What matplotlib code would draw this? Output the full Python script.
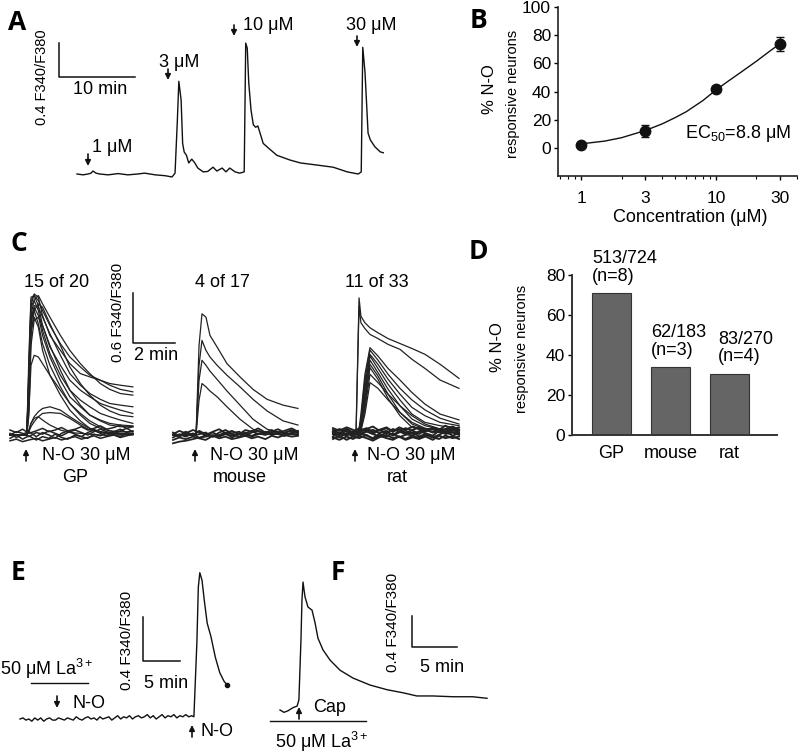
import matplotlib
matplotlib.use('Agg')
import matplotlib.pyplot as plt
from matplotlib.ticker import NullFormatter, FixedLocator, LogLocator

plt.rcParams['font.family'] = ['Liberation Sans', 'DejaVu Sans']
plt.rcParams['mathtext.fontset'] = 'custom'
plt.rcParams['mathtext.rm'] = 'Liberation Sans'
plt.rcParams['mathtext.it'] = 'Liberation Sans:italic'
plt.rcParams['mathtext.default'] = 'rm'

# ---------------- data ----------------
# A: single neuron, increasing N-O concentrations (min, delta F340/F380)
a_time = [0, 0.8, 1.45, 1.85, 2.1, 2.5, 3.0, 4.1, 5.4, 6.7, 8.0, 8.9, 10.3, 11.6, 12.5, 12.9,
          13.2, 13.4, 13.7, 13.9, 14.1, 14.4, 14.7, 15.1, 15.5, 15.9, 16.6, 17.2, 17.9, 18.4,
          19.1, 19.6, 20.1, 20.8, 21.4, 22.0, 22.2, 22.4, 22.6, 22.9, 23.2, 23.5, 23.8, 24.5,
          25.0, 26.3, 28.0, 29.4, 31.6, 33.7, 35.6, 37.0, 37.4, 37.6, 37.9, 38.3, 38.6, 39.2,
          39.9, 40.3]
a_ratio = [0, -0.01, 0, 0.01, 0.035, 0.01, 0, -0.01, 0.005, -0.01, 0, 0.01, -0.01, -0.02, -0.035, 0.01,
           0.62, 1.09, 0.87, 0.36, 0.26, 0.22, 0.13, 0.175, 0.13, 0.07, 0.025, 0.03, 0.08, 0.035,
           0.07, 0.025, 0.07, 0.025, 0.01, 0.025, 1.54, 1.48, 1.07, 0.75, 0.58, 0.55, 0.565, 0.36,
           0.32, 0.22, 0.165, 0.13, 0.105, 0.08, 0.024, 0, 0.024, 1.49, 1.19, 0.48, 0.40, 0.32,
           0.26, 0.25]

# B: concentration-response
conc = [1, 3, 10, 30]
pct_resp = [2, 12, 42, 74]
pct_err = [1.5, 4, 2, 5]
fit_conc = [1, 1.5, 2, 3, 4, 5, 6, 8, 10, 12, 15, 20, 25, 30]
fit_pct = [2.8, 4.8, 7.2, 12.3, 17, 21.5, 25.5, 33.5, 41, 46.5, 53, 61.5, 68.5, 74]

# C: overlaid traces, GP
gp_t = [0, 0.8, 0.9, 1.0, 1.15, 1.35, 1.55, 1.9, 2.4, 2.85, 3.35, 3.8, 4.3, 4.75, 5.25, 5.85]
gp_resp = [
    [0, 0, 0.72, 1.56, 1.70, 1.66, 1.44, 1.20, 1.02, 0.86, 0.74, 0.70, 0.66, 0.62, 0.60, 0.58],
    [0, 0, 0.96, 1.66, 1.68, 1.62, 1.50, 1.32, 1.10, 0.94, 0.82, 0.72, 0.66, 0.60, 0.55, 0.52],
    [0, 0, 0.60, 1.44, 1.63, 1.68, 1.58, 1.42, 1.20, 1.02, 0.86, 0.74, 0.62, 0.55, 0.50, 0.48],
    [0, 0, 0.48, 1.32, 1.56, 1.54, 1.42, 1.22, 0.96, 0.74, 0.60, 0.50, 0.43, 0.38, 0.36, 0.34],
    [0, 0, 0.84, 1.62, 1.68, 1.56, 1.32, 1.06, 0.84, 0.66, 0.54, 0.46, 0.38, 0.34, 0.30, 0.26],
    [0, 0, 0.36, 1.20, 1.50, 1.58, 1.54, 1.34, 1.08, 0.82, 0.62, 0.48, 0.36, 0.29, 0.24, 0.22],
    [0, 0, 0.72, 1.54, 1.62, 1.50, 1.26, 0.98, 0.72, 0.54, 0.42, 0.34, 0.26, 0.22, 0.18, 0.14],
    [0, 0, 0.54, 1.38, 1.54, 1.44, 1.20, 0.94, 0.66, 0.46, 0.34, 0.24, 0.18, 0.14, 0.12, 0.11],
    [0, 0, 0.24, 1.08, 1.38, 1.42, 1.32, 1.08, 0.78, 0.54, 0.36, 0.24, 0.17, 0.12, 0.10, 0.10],
    [0, 0, 0.60, 1.44, 1.50, 1.34, 1.10, 0.84, 0.58, 0.38, 0.24, 0.14, 0.08, 0.05, 0.04, 0.04],
    [0, 0, 0.42, 1.26, 1.42, 1.30, 1.02, 0.72, 0.48, 0.30, 0.17, 0.08, 0.04, 0.02, 0.02, 0.02],
    [0, 0, 0.30, 0.84, 0.96, 0.94, 0.86, 0.72, 0.54, 0.38, 0.26, 0.17, 0.10, 0.05, 0.02, 0.02],
    [0, 0, 0.06, 0.14, 0.22, 0.28, 0.32, 0.34, 0.30, 0.22, 0.14, 0.08, 0.04, 0.02, 0.01, 0.01],
    [0, 0, 0.04, 0.10, 0.16, 0.22, 0.26, 0.27, 0.26, 0.20, 0.12, 0.06, 0.03, 0.02, 0.01, 0.01],
    [0, 0, 0.05, 0.14, 0.20, 0.22, 0.18, 0.12, 0.06, 0.03, 0.02, 0.01, 0, 0, 0, 0],
]
gp_base_t = [0, 0.3, 0.6, 0.9, 1.25, 1.55, 1.85, 2.15, 2.45, 2.75, 3.1, 3.4, 3.7, 4.0, 4.3, 4.6,
             4.95, 5.25, 5.55, 5.85]
gp_base = [
    [0.02, -0.03, 0.01, 0.04, -0.02, 0.03, 0.00, -0.04, 0.02, 0.05, 0.01, -0.02, 0.03, 0.06, 0.02, -0.01, 0.04, 0.07, 0.03, 0.05],
    [-0.04, 0.00, -0.05, -0.01, -0.06, -0.02, -0.04, 0.01, -0.03, -0.05, 0.00, -0.02, -0.04, 0.01, -0.01, 0.03, 0.00, -0.02, 0.02, 0.01],
    [0.06, 0.03, 0.07, 0.02, 0.05, 0.08, 0.04, 0.06, 0.09, 0.05, 0.07, 0.10, 0.06, 0.08, 0.11, 0.07, 0.09, 0.12, 0.08, 0.10],
    [-0.07, -0.05, -0.08, -0.06, -0.04, -0.07, -0.05, -0.03, -0.06, -0.04, -0.02, -0.05, -0.03, -0.01, -0.04, -0.02, 0.00, -0.03, -0.01, 0.01],
    [0.00, 0.04, 0.02, -0.02, 0.03, 0.01, 0.05, 0.02, -0.01, 0.03, 0.06, 0.03, 0.00, 0.04, 0.07, 0.04, 0.02, 0.05, 0.08, 0.04],
]

# C: mouse
mouse_t = [0, 0.8, 1.1, 1.24, 1.38, 1.57, 1.76, 2.1, 2.57, 3.19, 3.81, 4.48, 5.24, 5.95]
mouse_resp = [
    [0, 0, 0.02, 1.08, 1.46, 1.42, 1.20, 1.06, 0.86, 0.70, 0.55, 0.43, 0.36, 0.32],
    [0, 0, 0.02, 0.84, 1.14, 1.02, 0.94, 0.84, 0.72, 0.58, 0.43, 0.29, 0.17, 0.12],
    [0, 0, 0.01, 0.66, 0.90, 0.84, 0.77, 0.67, 0.53, 0.36, 0.19, 0.07, 0.02, 0.01],
    [0, 0, 0.01, 0.42, 0.62, 0.58, 0.53, 0.46, 0.34, 0.19, 0.07, 0.02, 0.01, 0],
]
mouse_base_t = [0, 0.3, 0.6, 0.95, 1.25, 1.55, 1.9, 2.2, 2.5, 2.8, 3.15, 3.45, 3.75, 4.05, 4.4,
                4.7, 5.0, 5.3, 5.65, 5.95]
mouse_base = [
    [0.03, -0.01, 0.04, 0.00, 0.05, 0.01, -0.02, 0.03, 0.06, 0.02, 0.04, -0.01, 0.03, 0.05, 0.01, 0.04, 0.07, 0.03, 0.05, 0.02],
    [-0.03, 0.01, -0.02, 0.02, -0.04, 0.00, 0.03, -0.01, 0.02, -0.03, 0.01, 0.03, -0.02, 0.01, 0.04, 0.00, 0.02, -0.01, 0.03, 0.05],
    [-0.06, -0.03, -0.05, -0.02, -0.04, -0.06, -0.01, -0.04, -0.02, -0.05, -0.03, -0.01, -0.04, -0.02, -0.05, -0.01, -0.03, 0.00, -0.02, -0.01],
    [0.01, 0.05, 0.02, 0.06, 0.03, 0.00, 0.04, 0.07, 0.02, 0.05, 0.01, 0.06, 0.04, 0.08, 0.03, 0.06, 0.02, 0.05, 0.08, 0.04],
    [-0.10, -0.08, -0.07, -0.05, -0.03, -0.02, 0.00, -0.02, 0.01, -0.01, 0.02, 0.00, -0.01, 0.02, 0.00, 0.03, 0.01, -0.01, 0.02, 0.00],
    [0.00, -0.02, 0.02, -0.01, 0.01, 0.03, -0.02, 0.00, 0.03, 0.01, -0.02, 0.02, 0.05, 0.01, 0.03, 0.00, 0.04, 0.02, 0.06, 0.03],
]

# C: rat
rat_t = [0, 0.9, 1.1, 1.24, 1.33, 1.52, 1.76, 2.14, 2.62, 3.19, 3.76, 4.38, 5.1, 6.0]
rat_resp = [
    [0, 0, 0.06, 1.64, 1.42, 1.34, 1.28, 1.22, 1.15, 1.09, 1.03, 0.96, 0.84, 0.67],
    [0, 0, 0.04, 1.54, 1.34, 1.27, 1.20, 1.15, 1.08, 1.02, 0.90, 0.79, 0.65, 0.55],
    [0, 0, 0, 0.06, 0.24, 0.72, 1.04, 0.94, 0.79, 0.65, 0.50, 0.36, 0.24, 0.17],
    [0, 0, 0, 0.05, 0.18, 0.66, 1.01, 0.89, 0.72, 0.55, 0.41, 0.29, 0.19, 0.12],
    [0, 0, 0, 0.04, 0.14, 0.60, 0.96, 0.84, 0.66, 0.48, 0.32, 0.22, 0.14, 0.10],
    [0, 0, 0, 0.02, 0.12, 0.54, 0.94, 0.79, 0.60, 0.41, 0.24, 0.14, 0.10, 0.07],
    [0, 0, 0, 0.02, 0.10, 0.48, 0.89, 0.74, 0.54, 0.34, 0.18, 0.10, 0.06, 0.05],
    [0, 0, 0, 0.02, 0.07, 0.42, 0.84, 0.70, 0.48, 0.26, 0.12, 0.06, 0.04, 0.02],
    [0, 0, 0, 0.01, 0.06, 0.36, 0.80, 0.66, 0.43, 0.22, 0.08, 0.04, 0.02, 0.01],
    [0, 0, 0, 0.01, 0.05, 0.30, 0.72, 0.62, 0.48, 0.34, 0.22, 0.12, 0.06, 0.04],
    [0, 0, 0, 0.01, 0.04, 0.24, 0.62, 0.55, 0.41, 0.26, 0.14, 0.07, 0.04, 0.01],
]
rat_base_t = [0, 0.3, 0.65, 0.95, 1.25, 1.6, 1.9, 2.2, 2.55, 2.85, 3.15, 3.45, 3.8, 4.1, 4.4,
              4.75, 5.05, 5.35, 5.7, 6.0]
rat_base = [
    [0.05, 0.01, 0.06, 0.02, 0.07, 0.03, 0.00, 0.05, 0.08, 0.03, 0.06, 0.01, 0.05, 0.08, 0.04, 0.07, 0.02, 0.06, 0.09, 0.05],
    [-0.03, 0.02, -0.02, 0.03, -0.01, 0.04, 0.00, -0.03, 0.02, -0.01, 0.03, 0.00, -0.02, 0.03, 0.01, -0.02, 0.04, 0.00, 0.02, -0.01],
    [-0.06, -0.02, -0.07, -0.03, -0.05, -0.01, -0.06, -0.02, -0.05, -0.07, -0.03, -0.06, -0.02, -0.05, -0.01, -0.04, -0.06, -0.02, -0.05, -0.03],
    [0.02, 0.06, 0.03, -0.01, 0.04, 0.07, 0.02, 0.05, 0.01, 0.06, 0.03, 0.07, 0.04, 0.00, 0.05, 0.02, 0.06, 0.03, 0.07, 0.04],
    [0.00, -0.04, 0.01, -0.03, 0.02, -0.02, -0.05, 0.00, -0.03, 0.01, -0.04, -0.01, 0.02, -0.03, 0.00, -0.04, -0.01, 0.03, -0.02, 0.01],
    [0.07, 0.04, 0.08, 0.05, 0.02, 0.06, 0.09, 0.04, 0.07, 0.03, 0.08, 0.05, 0.09, 0.06, 0.03, 0.08, 0.05, 0.10, 0.06, 0.08],
    [-0.04, -0.07, -0.03, -0.06, -0.02, -0.05, -0.08, -0.04, -0.01, -0.05, -0.03, -0.07, -0.04, -0.06, -0.03, -0.07, -0.02, -0.05, -0.03, -0.06],
    [0.03, -0.01, 0.04, 0.01, -0.02, 0.03, 0.05, 0.01, 0.04, -0.02, 0.02, 0.04, 0.00, 0.03, 0.06, 0.02, 0.04, 0.01, 0.05, 0.02],
]
c_titles = ['15 of 20', '4 of 17', '11 of 33']

# D: responsive fraction per species
species = ['GP', 'mouse', 'rat']
resp_pct = [70.9, 33.9, 30.7]
resp_counts = ['513/724', '62/183', '83/270']
n_animals = [8, 3, 4]

# E: N-O in presence of La3+
e_time = [0, 0.4, 0.8, 1.2, 1.6, 2.0, 2.4, 2.8, 3.2, 3.6, 4.0, 4.4, 4.8, 5.2, 5.6, 6.0, 6.4, 6.8,
          7.2, 7.6, 8.0, 8.4, 8.8, 9.2, 9.6, 10.0, 10.4, 10.8, 11.2, 11.6, 12.0, 12.4, 12.8, 13.2,
          13.6, 14.0, 14.4, 14.8, 15.2, 15.6, 16.0, 16.4, 16.8, 17.2, 17.6, 18.0, 18.4, 18.8,
          19.2, 19.6, 20.0, 20.4, 20.8, 21.2, 21.6, 22.0, 22.4, 22.8, 23.2,
          23.5, 23.9, 24.1, 24.3, 24.6, 24.9, 25.3, 25.8, 26.4, 27.0, 27.6, 28.0]
e_ratio = [0.00, 0.01, -0.01, 0.00, -0.02, 0.01, -0.01, 0.01, -0.02, 0.00, 0.01, -0.01, -0.01,
           0.01, 0.00, -0.01, 0.01, 0.00, -0.01, 0.02, 0.00, -0.01, 0.01, 0.02, 0.00, 0.01,
           -0.01, 0.02, 0.00, 0.01, 0.02, -0.01, 0.01, 0.03, 0.00, 0.02, 0.01, 0.03, 0.00, 0.02,
           0.03, 0.01, 0.02, 0.04, 0.01, 0.03, 0.00, 0.02, 0.04, 0.01, 0.03, 0.02, 0.04, 0.01,
           0.03, 0.02, 0.04, 0.02, 0.03,
           0.02, 0.69, 1.20, 1.33, 1.26, 1.08, 0.87, 0.75, 0.56, 0.42, 0.34, 0.31]

# F: capsaicin in presence of La3+
f_time = [0, 0.44, 0.89, 1.44, 1.9, 2.1, 2.33, 2.44, 2.56, 2.67, 2.78, 3.11, 3.56, 3.89, 4.22,
          4.78, 5.56, 6.67, 8.1, 10.0, 11.9, 13.7, 15.2, 17.0, 19.2, 21.4, 23.0]
f_ratio = [0, -0.03, -0.01, 0.03, 0.05, 0.13, 0.90, 1.41, 1.64, 1.54, 1.45, 1.32, 1.28, 1.12, 0.92,
           0.77, 0.64, 0.51, 0.41, 0.32, 0.26, 0.22, 0.18, 0.18, 0.17, 0.17, 0.15]

# ---------------- figure ----------------
W, H = 800, 753
FS = 13
INK = '#111111'
fig = plt.figure(figsize=(8, 7.53), dpi=100)


def trace_axes(box, origin, sx, sy):
    # box in pixels (left, top, right, bottom); origin pixel = (t=0, ratio=0)
    x0, y0, x1, y1 = box
    ox, oy = origin
    ax = fig.add_axes([x0 / W, 1 - y1 / H, (x1 - x0) / W, (y1 - y0) / H])
    ax.set_xlim((x0 - ox) / sx, (x1 - ox) / sx)
    ax.set_ylim((oy - y1) / sy, (oy - y0) / sy)
    ax.axis('off')
    return ax


def scale_bar(ax, x, y, dx, dy):
    ax.plot([x, x, x + dx], [y + dy, y, y], color=INK, lw=1.1, clip_on=False)


# A
axA = trace_axes((0, 0, 430, 200), (77, 174), 7.6, 85)
axA.plot(a_time, a_ratio, color=INK, lw=1.0)
scale_bar(axA, -2.37, 1.14, 10, 0.4)

# B
axB = fig.add_axes([558 / W, 1 - 176 / H, (797 - 558) / W, (176 - 7) / H])
axB.set_xscale('log')
axB.set_xlim(0.675, 40)
axB.set_ylim(-20, 100)
axB.plot(fit_conc, fit_pct, color=INK, lw=1.0)
axB.errorbar(conc, pct_resp, yerr=pct_err, fmt='o', color=INK, ms=7.5, capsize=3, elinewidth=1, capthick=1)
axB.xaxis.set_major_locator(FixedLocator(conc))
axB.set_xticklabels([str(c) for c in conc])
axB.xaxis.set_minor_locator(LogLocator(subs=(2, 4, 5, 6, 7, 8, 9)))
axB.xaxis.set_minor_formatter(NullFormatter())
axB.set_yticks([0, 20, 40, 60, 80, 100])
for s in ['top', 'right']:
    axB.spines[s].set_visible(False)
for s in ['left', 'bottom']:
    axB.spines[s].set_linewidth(1.2)
    axB.spines[s].set_color('#222222')
axB.tick_params(which='major', direction='out', length=3, width=1, labelsize=12.5, pad=2)
axB.tick_params(axis='x', which='major', pad=8)
axB.tick_params(which='minor', direction='out', length=2, width=0.8)

# C
axGP = trace_axes((0, 250, 185, 470), (10, 435), 21, 83)
for v in gp_base:
    axGP.plot(gp_base_t, v, color='#222222', lw=1.1)
for v in gp_resp:
    axGP.plot(gp_t, v, color='#222222', lw=0.9)
scale_bar(axGP, 5.86, 1.11, 2, 0.6)

axMo = trace_axes((165, 250, 305, 470), (173, 435), 21, 83)
for v in mouse_base:
    axMo.plot(mouse_base_t, v, color='#222222', lw=1.3)
for v in mouse_resp:
    axMo.plot(mouse_t, v, color='#222222', lw=0.9)

axRa = trace_axes((325, 250, 465, 470), (333, 434), 21, 83)
for v in rat_base:
    axRa.plot(rat_base_t, v, color='#222222', lw=1.4)
for v in rat_resp:
    axRa.plot(rat_t, v, color='#222222', lw=0.9)

# D
axD = fig.add_axes([572 / W, 1 - 435 / H, (777 - 572) / W, (435 - 275) / H])
x_pos = list(range(len(species)))
axD.bar(x_pos, resp_pct, width=0.66, color='#656565', edgecolor='#333333', lw=0.8)
axD.set_xlim(-0.67, 2.81)
axD.set_ylim(0, 80)
axD.set_yticks([0, 20, 40, 60, 80])
axD.set_xticks(x_pos)
axD.set_xticklabels(species)
for s in ['top', 'right']:
    axD.spines[s].set_visible(False)
for s in ['left', 'bottom']:
    axD.spines[s].set_linewidth(1.4)
    axD.spines[s].set_color('#333333')
axD.tick_params(axis='y', direction='out', length=3, width=1, labelsize=12.5, pad=2)
axD.tick_params(axis='x', length=0, labelsize=FS, pad=7)
for i, (cnt, n) in enumerate(zip(resp_counts, n_animals)):
    axD.annotate(f'{cnt}\n(n={n})', (i - 0.33, resp_pct[i]), xytext=(0 if i < 2 else 6, 6),
                 textcoords='offset points', ha='left', va='bottom', fontsize=FS, linespacing=1.05)

# E
axE = trace_axes((0, 540, 260, 753), (20, 719), 7.4, 110)
axE.plot(e_time, e_ratio, color=INK, lw=1.0)
axE.plot(e_time[-1], e_ratio[-1], 'o', color=INK, ms=3)
scale_bar(axE, 16.6, 0.53, 5, 0.4)
axE.plot([1.5, 9.2], [0.33, 0.33], color=INK, lw=1.0)

# F
axF = trace_axes((260, 540, 520, 753), (280, 710), 9, 78)
axF.plot(f_time, f_ratio, color=INK, lw=1.0)
scale_bar(axF, 14.7, 0.81, 5, 0.4)
axF.plot([-1.1, 9.6], [-0.14, -0.14], color=INK, lw=1.0, clip_on=False)

# ---------------- text overlay (pixel coordinates) ----------------
ov = fig.add_axes([0, 0, 1, 1])
ov.set_xlim(0, W)
ov.set_ylim(H, 0)
ov.axis('off')


def txt(x, y, s, size=FS, ha='center', rot=0, **kw):
    ov.text(x, y, s, fontsize=size, ha=ha, va='center', rotation=rot, **kw)


def arrow(x, y_tail, y_head):
    ov.annotate('', xy=(x, y_head), xytext=(x, y_tail),
                arrowprops=dict(arrowstyle='-|>', color=INK, lw=1.2, mutation_scale=8,
                                shrinkA=0, shrinkB=0))


for letter, (x, y) in zip('ABCDEF', [(17, 22), (479, 20), (19, 243), (478, 251), (18, 573), (338, 572)]):
    txt(x, y, letter, size=19, fontweight='bold', family=['Open Sans', 'DejaVu Sans'])

# A labels
txt(42, 77, '0.4 F340/F380', size=10.5, rot=90)
txt(100, 89, '10 min')
txt(92, 147, '1 μM', ha='left')
txt(179, 62, '3 μM')
txt(243, 25, '10 μM', ha='left')
txt(371, 25, '30 μM')
arrow(88, 154, 166)
arrow(168, 69, 80)
arrow(234, 25, 36)
arrow(357, 36, 47)

# B labels
txt(489, 89, '% N-O', size=12, rot=90)
txt(513, 94, 'responsive neurons', size=10.5, rot=90)
txt(690, 217, 'Concentration (μM)')
txt(685, 133, 'EC$_{50}$=8.8 μM', ha='left')

# C labels
for x, t in zip([57, 222, 377], c_titles):
    txt(x, 282, t)
txt(118, 312, '0.6 F340/F380', size=11, rot=90)
txt(156, 355, '2 min')
for xa, xt in [(26, 42), (195, 210), (355, 367)]:
    arrow(xa, 461, 449)
    txt(xt, 455, 'N-O 30 μM', ha='left')
for x, name in zip([75, 240, 397], species):
    txt(x, 477, name)

# D labels
txt(498, 347, '% N-O', size=12, rot=90)
txt(522, 349, 'responsive neurons', size=10.5, rot=90)

# E labels
txt(0, 669, '50 μM La$^{3+}$', ha='left')
arrow(57, 696, 708)
txt(72, 704, 'N-O', ha='left')
txt(127, 640, '0.4 F340/F380', size=11, rot=90)
txt(166, 684, '5 min')
arrow(192, 737, 725)
txt(200, 731, 'N-O', ha='left')

# F labels
txt(393, 622, '0.4 F340/F380', size=11, rot=90)
txt(442, 667, '5 min')
arrow(299, 719, 707)
txt(313, 708, 'Cap', ha='left')
txt(275, 742, '50 μM La$^{3+}$', ha='left')

fig.savefig('out.png', dpi=100)
